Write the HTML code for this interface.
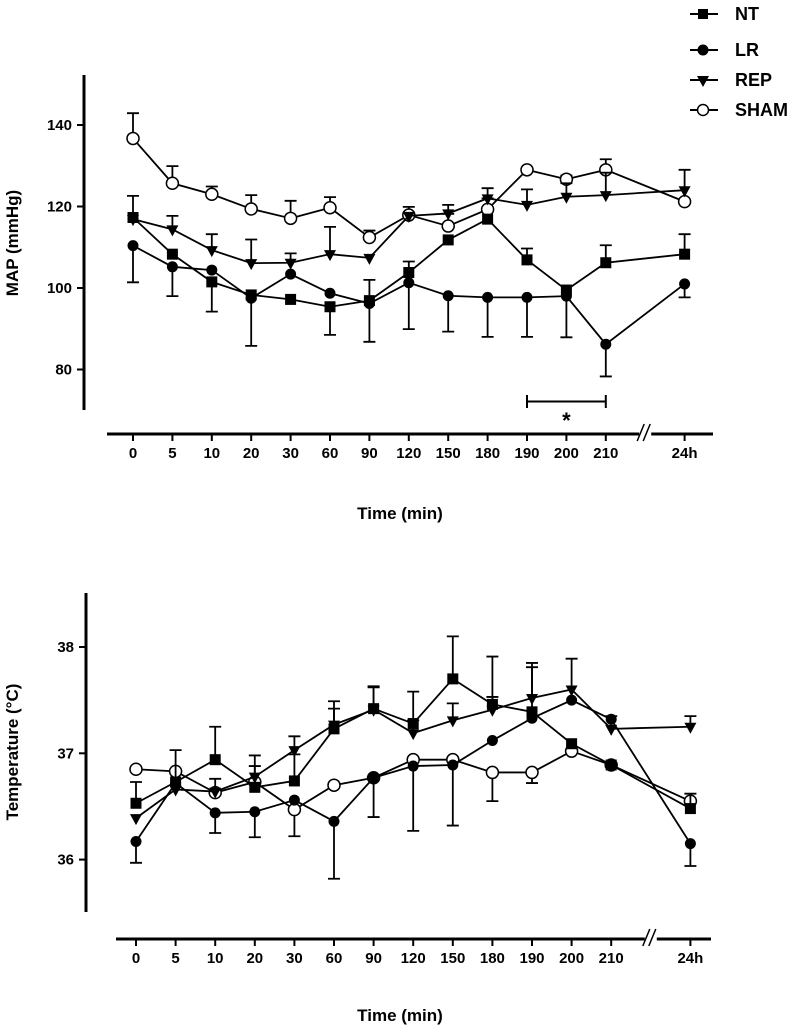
<!DOCTYPE html>
<html><head><meta charset="utf-8"><style>
html,body{margin:0;padding:0;background:#fff;width:800px;height:1028px;overflow:hidden}
svg text{font-family:"Liberation Sans",Arial,sans-serif;font-weight:bold;fill:#000}
</style></head><body>
<svg id="fig" width="800" height="1028" viewBox="0 0 800 1028" xmlns="http://www.w3.org/2000/svg">
<g id="legend">
 <g><line x1="690" y1="14" x2="718" y2="14" stroke="#000" stroke-width="2"/><rect x="698" y="9" width="10" height="10" fill="#000"/><text x="735" y="20" font-size="18">NT</text></g>
 <g><line x1="690" y1="50" x2="718" y2="50" stroke="#000" stroke-width="2"/><circle cx="703" cy="50" r="5.5" fill="#000"/><text x="735" y="56" font-size="18">LR</text></g>
 <g><line x1="690" y1="80" x2="718" y2="80" stroke="#000" stroke-width="2"/><path d="M697,76 L709,76 L703,87 Z" fill="#000"/><text x="735" y="86" font-size="18">REP</text></g>
 <g><line x1="690" y1="110" x2="718" y2="110" stroke="#000" stroke-width="2"/><circle cx="703" cy="110" r="5.5" fill="#fff" stroke="#000" stroke-width="1.5"/><text x="735" y="116" font-size="18">SHAM</text></g>
</g>
</svg>
<script>
const categories = ["0","5","10","20","30","60","90","120","150","180","190","200","210","24h"];
const catIndex = [0,1,2,3,4,5,6,7,8,9,10,11,12,14];
// MAP (mmHg)
const mapNT   = [117.3,108.3,101.5,98.3,97.2,95.4,96.9,103.8,111.8,116.9,106.9,99.5,106.2,108.3];
const mapNTUp = [5.3,0,0,0,0,0,0,2.7,0,0,2.8,0,4.3,4.9];
const mapNTDn = [0,0,7.3,0,0,6.9,0,0,0,0,0,0,0,0];
const mapLR   = [110.4,105.2,104.4,97.5,103.4,98.7,96.2,101.3,98.1,97.7,97.7,98.0,86.2,101.0];
const mapLRUp = [0,0,0,0,0,0,5.8,0,0,0,0,0,0,0];
const mapLRDn = [9.0,7.2,0,11.7,0,0,9.4,11.4,8.8,9.7,9.7,10.1,7.9,3.3];
const mapREP  = [116.9,114.4,109.3,106.1,106.2,108.3,107.4,117.7,118.3,122.0,120.4,122.4,122.8,124.0];
const mapREPUp= [0,3.3,3.9,5.8,2.3,6.7,0,0,2.1,2.5,3.8,3.3,5.5,5.0];
const mapREPDn= [0,0,0,0,0,0,0,0,0,0,0,0,0,0];
const mapSHAM = [136.7,125.7,123.0,119.4,117.1,119.7,112.4,117.9,115.2,119.3,129.0,126.7,129.0,121.2];
const mapSHAMUp=[6.2,4.2,1.9,3.4,4.3,2.6,1.7,2.0,3.0,2.7,0,0.9,2.6,0];
const mapTicks = [80,100,120,140];
// Temperature (°C)
const tNT   = [36.53,36.73,36.94,36.68,36.74,37.23,37.42,37.28,37.70,37.46,37.39,37.09,36.89,36.48];
const tNTUp = [0.2,0,0.31,0.2,0.25,0.26,0.2,0.3,0.4,0.45,0.42,0,0,0.14];
const tLR   = [36.17,36.72,36.44,36.45,36.56,36.36,36.77,36.88,36.89,37.12,37.33,37.50,37.32,36.15];
const tLRDn = [0.2,0,0.19,0.24,0,0.54,0,0.61,0.57,0,0,0,0,0.21];
const tREP  = [36.39,36.66,36.64,36.78,37.03,37.27,37.41,37.19,37.31,37.41,37.52,37.60,37.23,37.25];
const tREPUp= [0,0.37,0.12,0.2,0.13,0.15,0.22,0.12,0.16,0.12,0.33,0.29,0.12,0.1];
const tSHAM = [36.85,36.83,36.63,36.73,36.47,36.70,36.77,36.94,36.94,36.82,36.82,37.02,36.89,36.55];
const tSHAMDn=[0,0,0,0,0.25,0,0.37,0,0,0.27,0.1,0,0,0];
const tTicks = [36,37,38];

const NS="http://www.w3.org/2000/svg";
const svg=document.getElementById('fig');
function mk(tag,attrs,parent){const e=document.createElementNS(NS,tag);for(const k in attrs)e.setAttribute(k,attrs[k]);(parent||svg).appendChild(e);return e;}

function drawChart(cfg){
  const g=mk('g',{});
  
  
  const y=v=>cfg.y0-(v-cfg.v0)*cfg.k;
  const x=i=>cfg.x0+catIndex[i]*cfg.dx;
  const ya=mk('line',{x1:cfg.ax,y1:cfg.yTop,x2:cfg.ax,y2:cfg.yBot,stroke:'#000','stroke-width':3},g);
  
  
  cfg.ticks.forEach(t=>{
    mk('line',{x1:cfg.ax-7,y1:y(t),x2:cfg.ax,y2:y(t),stroke:'#000','stroke-width':2},g);
    const tl=mk('text',{x:cfg.ax-12,y:y(t)+5,'font-size':15,'text-anchor':'end'},g);
    tl.textContent=t;
    
    
  });
  const yt=mk('text',{x:0,y:0,'font-size':17,'text-anchor':'middle',transform:`translate(${cfg.ytx},${cfg.yty}) rotate(-90)`},g);
  yt.textContent=cfg.ytitle;
  
  
  const xa=mk('line',{x1:cfg.xl,y1:cfg.xy,x2:cfg.xr,y2:cfg.xy,stroke:'#000','stroke-width':3},g);
  
  
  categories.forEach((c,i)=>{
    mk('line',{x1:x(i),y1:cfg.xy,x2:x(i),y2:cfg.xy+7,stroke:'#000','stroke-width':2},g);
    const tl=mk('text',{x:x(i),y:cfg.xy+24,'font-size':15,'text-anchor':'middle'},g);
    tl.textContent=c;
    
    
  });
  const bx=cfg.x0+13*cfg.dx;
  mk('rect',{x:bx-6,y:cfg.xy-3,width:12,height:6,fill:'#fff'},g);
  mk('line',{x1:bx-8,y1:cfg.xy+7,x2:bx-1,y2:cfg.xy-10,stroke:'#000','stroke-width':1.5},g);
  mk('line',{x1:bx-2,y1:cfg.xy+7,x2:bx+5,y2:cfg.xy-10,stroke:'#000','stroke-width':1.5},g);
  const xt=mk('text',{x:400,y:cfg.xty,'font-size':17,'text-anchor':'middle'},g);
  xt.textContent='Time (min)';
  
  
  cfg.series.forEach(s=>{
    const sg=mk('g',{},g);
    
    
    s.vals.forEach((v,i)=>{
      [[s.up,1],[s.dn,-1]].forEach(([arr,sgn])=>{
        if(!arr||!arr[i])return;
        const ye=y(v+sgn*arr[i]);
        const eb=mk('path',{d:`M${x(i)},${y(v)} L${x(i)},${ye} M${x(i)-6},${ye} L${x(i)+6},${ye}`,stroke:'#000','stroke-width':1.8,fill:'none'},sg);
        
        
      });
    });
    const pts=s.vals.map((v,i)=>x(i)+','+y(v)).join(' ');
    const pl=mk('polyline',{points:pts,fill:'none',stroke:'#000','stroke-width':1.8},sg);
    
    
    s.vals.forEach((v,i)=>{
      const cx=x(i),cy=y(v);let m;
      if(s.key==='nt')m=mk('rect',{x:cx-5.5,y:cy-5.5,width:11,height:11,fill:'#000'},sg);
      else if(s.key==='lr')m=mk('circle',{cx,cy,r:5.5,fill:'#000'},sg);
      else if(s.key==='rep')m=mk('path',{d:`M${cx-6},${cy-4} L${cx+6},${cy-4} L${cx},${cy+7} Z`,fill:'#000'},sg);
      else m=mk('circle',{cx,cy,r:6,fill:'#fff',stroke:'#000','stroke-width':1.5},sg);
      
      
    });
  });
  return {g,x,y};
}

const mapChart=drawChart({name:'map-chart',v0:100,y0:288,k:4.075,x0:133,dx:39.4,ax:84,yTop:75,yBot:410,ticks:mapTicks,
  ytitle:'MAP (mmHg)',ytx:18,yty:243,xl:107,xr:713,xy:434,xty:519,
  series:[
    {key:'sham',vals:mapSHAM,up:mapSHAMUp},
    {key:'rep',vals:mapREP,up:mapREPUp,dn:mapREPDn},
    {key:'nt',vals:mapNT,up:mapNTUp,dn:mapNTDn},
    {key:'lr',vals:mapLR,up:mapLRUp,dn:mapLRDn}
  ]});
const br=mk('path',{d:`M${mapChart.x(10)},395 L${mapChart.x(10)},408 M${mapChart.x(10)},401.5 L${mapChart.x(12)},401.5 M${mapChart.x(12)},395 L${mapChart.x(12)},408`,stroke:'#000','stroke-width':2,fill:'none'},mapChart.g);


const st=mk('text',{x:mapChart.x(11),y:428,'font-size':22,'text-anchor':'middle'},mapChart.g);
st.textContent='*';



drawChart({name:'temperature-chart',v0:37,y0:753.3,k:106.3,x0:136,dx:39.6,ax:86,yTop:593,yBot:912,ticks:tTicks,
  ytitle:'Temperature (°C)',ytx:18,yty:752,xl:116,xr:711,xy:939,xty:1021,
  series:[
    {key:'sham',vals:tSHAM,dn:tSHAMDn},
    {key:'lr',vals:tLR,dn:tLRDn},
    {key:'rep',vals:tREP,up:tREPUp},
    {key:'nt',vals:tNT,up:tNTUp}
  ]});
</script>
</body></html>
